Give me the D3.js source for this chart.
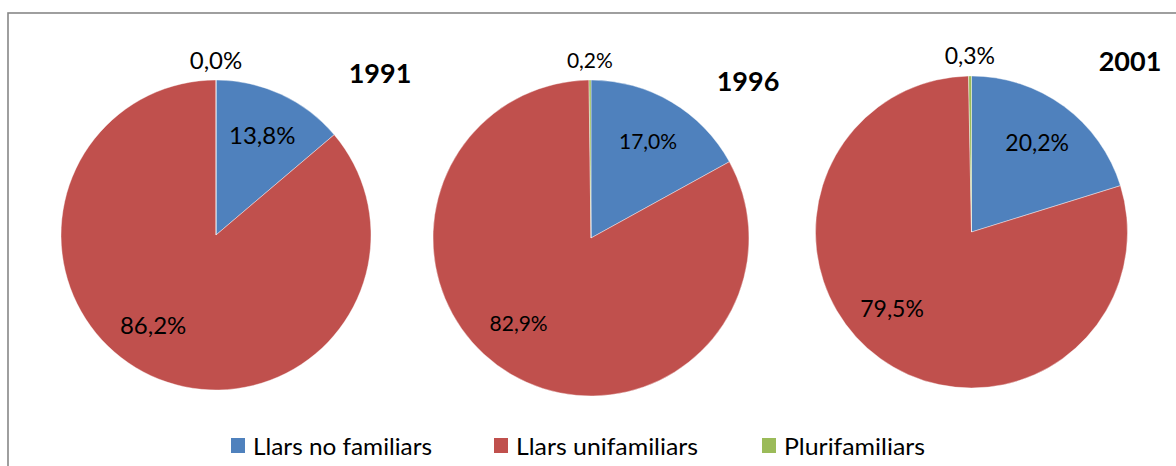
<!DOCTYPE html>
<html>
<head>
<meta charset="utf-8">
<script src="https://cdn.jsdelivr.net/npm/d3@7"></script>
<style>
  html, body { margin: 0; padding: 0; background: #fff; }
  svg { display: block; }
  text { font-family: Lato, "Open Sans", sans-serif; fill: #000; }
</style>
</head>
<body>
<svg id="chart" width="1176" height="466"></svg>
<script>
// Household types, share of total (%)
const categories = ["Llars no familiars", "Llars unifamiliars", "Plurifamiliars"];
const years = ["1991", "1996", "2001"];
const values1991 = [13.8, 86.2, 0.0];
const values1996 = [17.0, 82.9, 0.2];
const values2001 = [20.2, 79.5, 0.3];
const seriesByYear = [values1991, values1996, values2001];

const colors = ["#4F81BD", "#C0504D", "#9BBB59"];

// Layout of each pie: centre, radius, label size, title placement
const pieLayout = [
  { cx: 216, cy: 235, r: 155, font: 24, titleX: 380, titleY: 83 },
  { cx: 591, cy: 238, r: 158, font: 21, titleX: 748, titleY: 91 },
  { cx: 971.5, cy: 232, r: 156, font: 23, titleX: 1130, titleY: 71 }
];
// Extra rotation (degrees) applied to the label of each slice
const labelShift = [0, 10, 0];

const svg = d3.select("#chart");

// Outer frame of the chart area
svg.append("rect")
  .attr("x", 8).attr("y", 13)
  .attr("width", 1200).attr("height", 500)
  .attr("fill", "none")
  .attr("stroke", "#878787")
  .attr("stroke-width", 1.6);

const color = d3.scaleOrdinal().domain(categories).range(colors);
const pie = d3.pie().sort(null).value(d => d.value);
const fmt = v => d3.format(".1f")(v).replace(".", ",") + "%";

seriesByYear.forEach((vals, i) => {
  const L = pieLayout[i];
  const data = categories.map((c, k) => ({ cat: c, value: vals[k], idx: k }));
  const arcs = pie(data);
  const arc = d3.arc().innerRadius(0).outerRadius(L.r);

  const g = svg.append("g").attr("transform", `translate(${L.cx},${L.cy})`);

  g.selectAll("path.slice")
    .data(arcs)
    .join("path")
    .attr("class", "slice")
    .attr("d", arc)
    .attr("fill", d => color(d.data.cat))
    .attr("stroke", "#ffffff")
    .attr("stroke-width", 0.4);

  g.selectAll("text.val")
    .data(arcs)
    .join("text")
    .attr("class", "val")
    .attr("font-size", L.font)
    .attr("text-anchor", "middle")
    .attr("dy", "0.36em")
    .attr("transform", d => {
      const mid = (d.startAngle + d.endAngle) / 2 + labelShift[d.data.idx] * Math.PI / 180;
      const small = d.data.value < 2;
      const rr = small ? L.r + 20 : L.r * 0.71;
      return `translate(${rr * Math.sin(mid)},${-rr * Math.cos(mid)})`;
    })
    .text(d => fmt(d.data.value));

  svg.append("text")
    .attr("x", L.titleX).attr("y", L.titleY)
    .attr("text-anchor", "middle")
    .attr("font-size", 27)
    .attr("font-weight", "bold")
    .text(years[i]);
});

// Legend
const legendX = [231, 494, 762];
const legendW = [179, 182, 141];
const legend = svg.append("g");
categories.forEach((c, k) => {
  legend.append("rect")
    .attr("x", legendX[k]).attr("y", 438)
    .attr("width", 14).attr("height", 15)
    .attr("fill", color(c));
  legend.append("text")
    .attr("x", legendX[k] + 22).attr("y", 455)
    .attr("font-size", 24)
    .attr("textLength", legendW[k])
    .attr("lengthAdjust", "spacingAndGlyphs")
    .text(c);
});
</script>
</body>
</html>
